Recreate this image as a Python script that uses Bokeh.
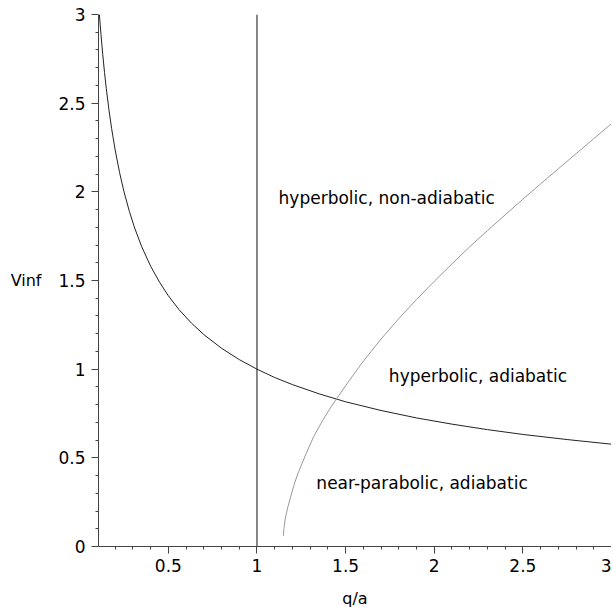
from bokeh.plotting import figure
from bokeh.models import Range1d, FixedTicker, Label
from bokeh.embed import file_html
from bokeh.resources import INLINE

# Black curve
vinf_q = [0.111, 0.12, 0.13, 0.14, 0.15, 0.165, 0.18, 0.2, 0.225, 0.25, 0.28, 0.31, 0.35, 0.4,
          0.45, 0.5, 0.56, 0.63, 0.7, 0.8, 0.9, 1.0, 1.1, 1.2, 1.35, 1.5, 1.7, 1.9, 2.1,
          2.3, 2.5, 2.75, 3.0]
vinf_v = [3.0, 2.887, 2.774, 2.673, 2.582, 2.462, 2.357, 2.236, 2.108, 2.0, 1.890, 1.796,
          1.690, 1.581, 1.491, 1.414, 1.336, 1.260, 1.195, 1.118, 1.054, 1.0, 0.953, 0.913,
          0.861, 0.816, 0.767, 0.725, 0.690, 0.659, 0.632, 0.603, 0.577]

# Grey curve
adiab_q = [1.149, 1.152, 1.16, 1.175, 1.19, 1.21, 1.23, 1.255, 1.28, 1.32, 1.37, 1.41,
           1.45, 1.52, 1.6, 1.7, 1.8, 1.9, 2.0, 2.1, 2.2, 2.3, 2.4, 2.5, 2.6, 2.7, 2.8,
           2.9, 3.0]
adiab_v = [0.06, 0.10, 0.16, 0.225, 0.28, 0.35, 0.41, 0.47, 0.53, 0.62, 0.71, 0.775,
           0.835, 0.935, 1.045, 1.17, 1.285, 1.393, 1.495, 1.594, 1.69, 1.781, 1.87, 1.958,
           2.045, 2.13, 2.215, 2.3, 2.385]

# Vertical boundary
bound_q = [1.0, 1.0]
bound_v = [0.0, 3.0]

x_major = [0.5, 1, 1.5, 2, 2.5, 3]
x_minor = [0.2, 0.3, 0.4, 0.6, 0.7, 0.8, 0.9, 1.1, 1.2, 1.3, 1.4, 1.6, 1.7, 1.8, 1.9,
           2.1, 2.2, 2.3, 2.4, 2.6, 2.7, 2.8, 2.9]
y_major = [0, 0.5, 1, 1.5, 2, 2.5, 3]
y_minor = [0.1, 0.2, 0.3, 0.4, 0.6, 0.7, 0.8, 0.9, 1.1, 1.2, 1.3, 1.4, 1.6, 1.7, 1.8, 1.9,
           2.1, 2.2, 2.3, 2.4, 2.6, 2.7, 2.8, 2.9]

region_texts = ["hyperbolic, non-adiabatic", "hyperbolic, adiabatic", "near-parabolic, adiabatic"]
region_q = [1.122, 1.744, 1.335]
region_v = [1.963, 0.959, 0.357]

FONT = "DejaVu Sans"

p = figure(frame_width=513, frame_height=532,
           x_range=Range1d(0.106, 3.0), y_range=Range1d(0, 3),
           output_backend="svg", toolbar_location=None,
           min_border_left=98, min_border_right=0, min_border_top=14, min_border_bottom=55,
           background_fill_color="white", border_fill_color="white")
p.outline_line_color = None
p.grid.visible = False

p.line(vinf_q, vinf_v, line_color="#222222", line_width=1)
p.line(adiab_q, adiab_v, line_color="#999999", line_width=1)
p.line(bound_q, bound_v, line_color="#111111", line_width=1)

for t, q, v in zip(region_texts, region_q, region_v):
    p.add_layout(Label(x=q, y=v, text=t, text_font=FONT, text_font_size="17px",
                       text_color="black", text_baseline="alphabetic", text_align="left"))

for ax in (p.xaxis[0], p.yaxis[0]):
    ax.axis_line_color = "#444444"
    ax.major_tick_line_color = "#444444"
    ax.minor_tick_line_color = "#444444"
    ax.major_tick_in = 0
    ax.minor_tick_in = 0
    ax.major_tick_out = 7
    ax.minor_tick_out = 3
    ax.major_label_text_font = FONT
    ax.major_label_text_font_size = "17px"
    ax.major_label_text_color = "black"
    ax.axis_label_text_font = FONT
    ax.axis_label_text_font_size = "16px"
    ax.axis_label_text_font_style = "normal"
    ax.axis_label_text_color = "black"

p.xaxis[0].ticker = FixedTicker(ticks=x_major, minor_ticks=x_minor)
p.yaxis[0].ticker = FixedTicker(ticks=y_major, minor_ticks=y_minor)
p.xaxis[0].major_label_overrides = {3: "3"}
p.yaxis[0].major_label_overrides = {0: "0", 3: "3"}
p.xaxis[0].axis_label = "q/a"
p.yaxis[0].axis_label = "Vinf"
p.yaxis[0].axis_label_orientation = "horizontal"
p.xaxis[0].major_label_standoff = 5
p.yaxis[0].major_label_standoff = 6
p.xaxis[0].axis_label_standoff = 14
p.yaxis[0].axis_label_standoff = 14

open("out.html", "w").write(file_html(p, INLINE))
